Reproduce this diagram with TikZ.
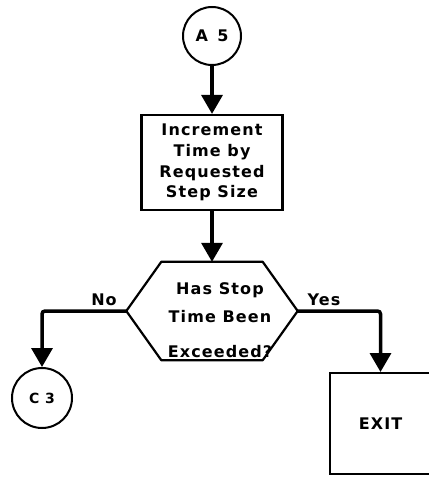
\documentclass[tikz,border=0pt]{standalone}
\usepackage{fontspec}
\setmainfont{DejaVu Sans}[LetterSpace=7]
\usetikzlibrary{arrows.meta}

\begin{document}
\begin{tikzpicture}[x=1pt,y=1pt,%
% common options for the boxes:
block/.style = {draw, line width=2.2pt, align=center, inner sep=0,
            minimum width=141pt, minimum height=95pt},
% common options for the circles:
ball/.style = {circle, draw, line width=2pt, minimum size=58pt, inner sep=0},
% flow lines between the shapes:
flow/.style = {line width=3.5pt, -{Triangle[length=19pt,width=21pt]}},
font=\fontsize{16}{20.7}\selectfont\bfseries]
\useasboundingbox (0,0) rectangle (428,-478);
\node[ball] (A5) at (212,-36) {A\ \,5};
\node[block] (incr) at (212,-162.5) {Increment\\Time by\\Requested\\Step Size};
% the test is a hexagon drawn round an empty node
\node[minimum width=171pt, minimum height=98pt, inner sep=0] (test) at (212,-311) {};
\draw[line width=2.2pt, line join=round] (test.west) -- ([xshift=35pt]test.north west)
    -- ([xshift=-35pt]test.north east) -- (test.east)
    -- ([xshift=-35pt]test.south east) -- ([xshift=35pt]test.south west) -- cycle;
\node[align=center] (testtext) at (220,-320) {Has Stop\\[8pt]Time Been\\[14pt]Exceeded?};
\node[ball, minimum size=60pt, font=\fontsize{14}{16}\selectfont\bfseries] (C3) at (42,-398) {C 3};
\node[block, minimum width=101pt, minimum height=101pt, line width=2pt] (exit) at (380.5,-423.5) {EXIT};
\draw[flow] (A5) -- (incr);
\draw[flow] (incr) -- (test.north);
\draw[flow, rounded corners=3pt] (test.west) -| (C3);
\draw[flow, rounded corners=3pt] (test.east) -| (exit);
\node[anchor=south] (no) at (104,-309) {No};
\node[anchor=south] (yes) at (324,-309) {Yes};
\end{tikzpicture}
\end{document}
